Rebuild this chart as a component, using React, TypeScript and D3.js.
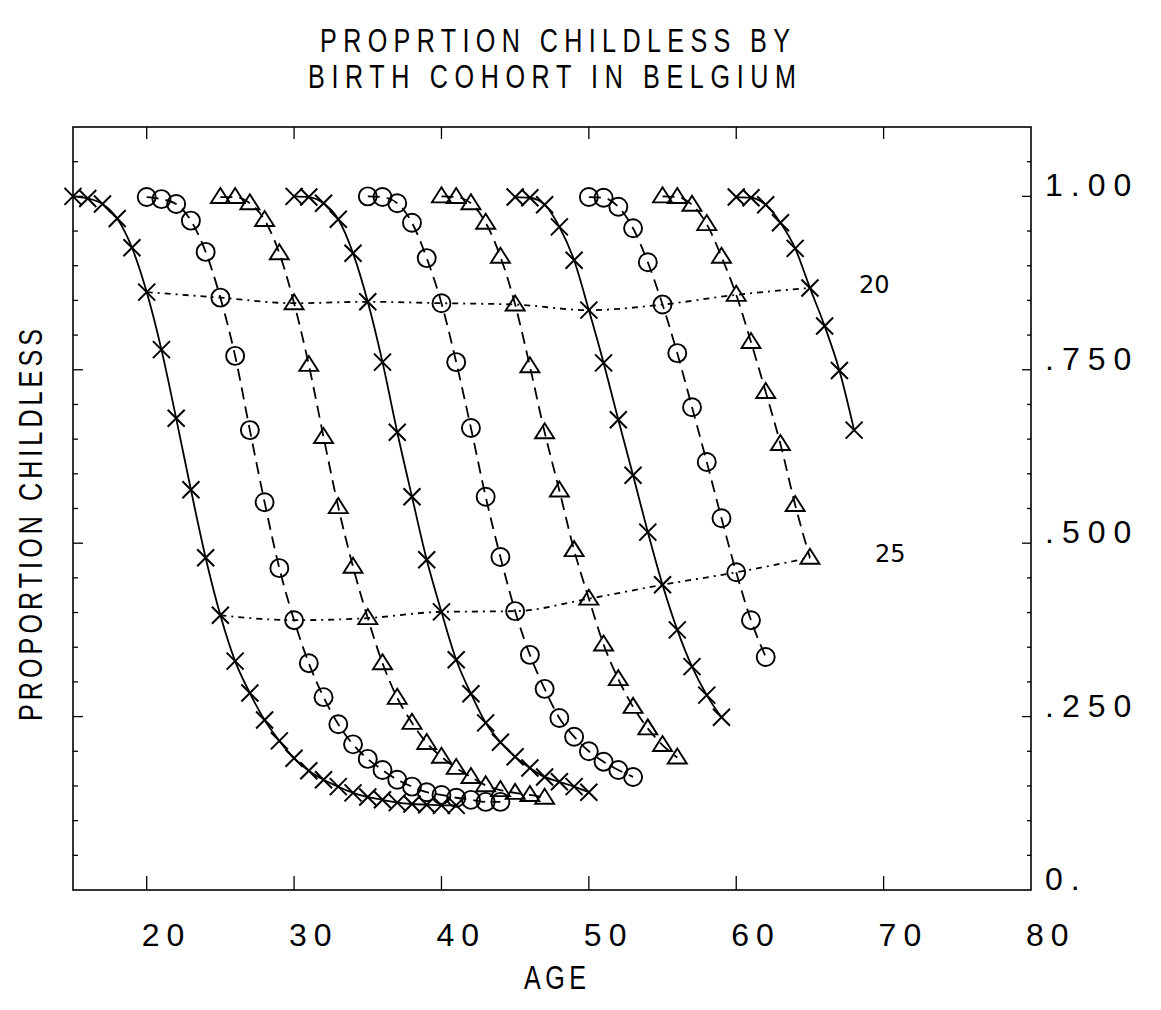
import React from "react";
import * as d3 from "d3";

// ---------- data (proportion childless by age, one array per birth cohort) ----------
const AGE_START = 15;
const cohortShift = [0, 5, 10, 15, 20, 25, 30, 35, 40, 45];
const cohort1 = [1.0, 0.997, 0.989, 0.968, 0.926, 0.862, 0.779, 0.68, 0.577, 0.479, 0.396, 0.33, 0.284, 0.245, 0.215, 0.19, 0.172, 0.159, 0.149, 0.14, 0.134, 0.13, 0.126, 0.124, 0.123, 0.122, 0.122];
const cohort2 = [0.999, 0.996, 0.989, 0.965, 0.92, 0.854, 0.77, 0.663, 0.559, 0.464, 0.389, 0.327, 0.278, 0.239, 0.21, 0.189, 0.173, 0.159, 0.149, 0.141, 0.137, 0.133, 0.13, 0.127, 0.127];
const cohort3 = [0.999, 0.999, 0.99, 0.966, 0.918, 0.846, 0.757, 0.653, 0.552, 0.466, 0.392, 0.327, 0.277, 0.241, 0.212, 0.192, 0.176, 0.163, 0.151, 0.144, 0.14, 0.137, 0.133];
const cohort4 = [1.0, 0.999, 0.99, 0.967, 0.918, 0.848, 0.761, 0.66, 0.567, 0.476, 0.401, 0.332, 0.283, 0.241, 0.213, 0.192, 0.176, 0.163, 0.156, 0.149, 0.141];
const cohort5 = [1.0, 0.999, 0.99, 0.962, 0.911, 0.846, 0.761, 0.666, 0.567, 0.48, 0.402, 0.339, 0.29, 0.248, 0.221, 0.2, 0.185, 0.173, 0.163];
const cohort6 = [1.0, 0.999, 0.99, 0.962, 0.913, 0.844, 0.755, 0.66, 0.576, 0.49, 0.42, 0.354, 0.304, 0.264, 0.233, 0.209, 0.191];
const cohort7 = [0.999, 0.998, 0.988, 0.956, 0.908, 0.836, 0.76, 0.678, 0.598, 0.516, 0.44, 0.375, 0.322, 0.281, 0.249];
const cohort8 = [0.999, 0.998, 0.985, 0.954, 0.905, 0.844, 0.774, 0.696, 0.617, 0.536, 0.458, 0.389, 0.336];
const cohort9 = [1.0, 0.999, 0.988, 0.96, 0.913, 0.858, 0.79, 0.718, 0.643, 0.555, 0.479];
const cohort10 = [0.999, 0.998, 0.988, 0.962, 0.925, 0.868, 0.813, 0.749, 0.663];
const cohorts = [cohort1, cohort2, cohort3, cohort4, cohort5, cohort6, cohort7, cohort8, cohort9, cohort10];
const markerKinds = ["x", "circle", "triangle", "x", "circle", "triangle", "x", "circle", "triangle", "x"];
const refAges = [20, 25];
const xTicks = [20, 30, 40, 50, 60, 70, 80];
const yTickValues = [0, 0.25, 0.5, 0.75, 1.0];
const yTickLabels = ["0.", ".250", ".500", ".750", "1.00"];
const titleLines = ["PROPRTION CHILDLESS BY", "BIRTH COHORT IN BELGIUM"];

const W = 1161;
const H = 1010;
const x = d3.scaleLinear().domain([15, 80]).range([73, 1031]);
const y = d3.scaleLinear().domain([0, 1.1]).range([890, 127]);

type Pt = { pos: number; age: number; v: number };

const line = d3
  .line<Pt>()
  .x((d) => x(d.pos))
  .y((d) => y(d.v))
  .curve(d3.curveMonotoneX);

const series: Pt[][] = cohorts.map((vals, k) =>
  vals.map((v, i) => ({ pos: AGE_START + i + cohortShift[k], age: AGE_START + i, v }))
);

const refSeries: Pt[][] = refAges.map((a) =>
  series.filter((s) => s.length > a - AGE_START).map((s) => s[a - AGE_START])
);

function Marker({ kind, cx, cy }: { kind: string; cx: number; cy: number }) {
  if (kind === "circle") return <circle cx={cx} cy={cy} r={9} fill="none" stroke="#000" strokeWidth={1.9} />;
  if (kind === "triangle")
    return (
      <path
        d={`M${cx},${cy - 9}L${cx + 9.5},${cy + 6}L${cx - 9.5},${cy + 6}Z`}
        fill="none"
        stroke="#000"
        strokeWidth={1.9}
      />
    );
  const s = 8.5;
  return (
    <path
      d={`M${cx - s},${cy - s}L${cx + s},${cy + s}M${cx - s},${cy + s}L${cx + s},${cy - s}`}
      fill="none"
      stroke="#000"
      strokeWidth={2}
    />
  );
}

const SQ = 0.74; // horizontal squeeze for the plotter-like condensed lettering

function CondText({ x0, y0, len, size, children, anchor }: any) {
  const w = len / SQ;
  const start = anchor === "middle" ? x0 - len / 2 : x0;
  return (
    <g transform={`translate(${start},${y0}) scale(${SQ},1)`}>
      <text x={0} y={0} fontFamily="'Liberation Sans', Arial, sans-serif" fontSize={size} textLength={w} lengthAdjust="spacing" fill="#000">
        {children}
      </text>
    </g>
  );
}

export default function App() {
  const minorY = d3.range(0.05, 1.09, 0.05);
  const x0 = x(15);
  const x1 = x(80);
  const yTop = y(1.1);
  const yBot = y(0);
  const tickFont = "'Liberation Sans', Arial, sans-serif";
  return (
    <svg
      width={W}
      height={H}
      viewBox={`0 0 ${W} ${H}`}
      style={{ position: "absolute", left: 0, top: 0, display: "block", background: "#fff" }}
    >
      <rect x={0} y={0} width={W} height={H} fill="#fff" />
      {/* title */}
      <CondText x0={320} y0={52} len={470} size={34}>{titleLines[0]}</CondText>
      <CondText x0={308} y0={88} len={488} size={34}>{titleLines[1]}</CondText>

      {/* frame */}
      <rect x={x0} y={yTop} width={x1 - x0} height={yBot - yTop} fill="none" stroke="#000" strokeWidth={1.6} />

      {/* x ticks top & bottom */}
      {xTicks.filter((t) => t < 80).map((t) => (
        <g key={"xt" + t}>
          <line x1={x(t)} x2={x(t)} y1={yBot} y2={yBot - 14} stroke="#000" strokeWidth={1.3} />
          <line x1={x(t)} x2={x(t)} y1={yTop} y2={yTop + 12} stroke="#000" strokeWidth={1.3} />
        </g>
      ))}
      {xTicks.map((t) => (
        <text key={"xl" + t} x={x(t) - 5} y={946} fontFamily={tickFont} fontSize={32} letterSpacing={7} fill="#000">
          {t}
        </text>
      ))}

      {/* y ticks left & right */}
      {minorY.map((v, i) => {
        const major = Math.abs(v / 0.25 - Math.round(v / 0.25)) < 1e-6;
        return (
          <g key={"yt" + i}>
            <line x1={x0} x2={x0 + (major ? 10 : 5)} y1={y(v)} y2={y(v)} stroke="#000" strokeWidth={1.3} />
            <line x1={x1} x2={x1 - (major ? 9 : 4)} y1={y(v)} y2={y(v)} stroke="#000" strokeWidth={1.3} />
          </g>
        );
      })}
      {yTickValues.map((v, i) => (
        <text key={"yl" + i} x={1045} y={y(v)} fontFamily={tickFont} fontSize={32} letterSpacing={8} fill="#000">
          {yTickLabels[i]}
        </text>
      ))}

      {/* axis titles */}
      <CondText x0={555} y0={989} len={62} size={34} anchor="middle">AGE</CondText>
      <g transform="translate(42,525) rotate(-90)">
        <CondText x0={0} y0={0} len={392} size={34} anchor="middle">PROPORTION CHILDLESS</CondText>
      </g>

      {/* cohort curves */}
      {series.map((s, k) => (
        <path
          key={"c" + k}
          d={line(s) || ""}
          fill="none"
          stroke="#000"
          strokeWidth={1.8}
          strokeDasharray={markerKinds[k] === "x" ? undefined : "12 7"}
        />
      ))}

      {/* reference age lines */}
      {refSeries.map((s, j) => (
        <path key={"r" + j} d={line(s) || ""} fill="none" stroke="#000" strokeWidth={1.8} strokeDasharray="6 5 2 5" />
      ))}
      {refSeries.map((s, j) => {
        const last = s[s.length - 1];
        return (
          <text
            key={"rl" + j}
            x={x(last.pos) + (j === 0 ? 49 : 65)}
            y={y(last.v) + (j === 0 ? 5 : 4)}
            fontFamily="'DejaVu Sans', sans-serif"
            fontSize={24}
            fill="#000"
          >
            {refAges[j]}
          </text>
        );
      })}

      {/* markers */}
      {series.map((s, k) =>
        s.map((d, i) => <Marker key={"m" + k + "-" + i} kind={markerKinds[k]} cx={x(d.pos)} cy={y(d.v)} />)
      )}
    </svg>
  );
}
